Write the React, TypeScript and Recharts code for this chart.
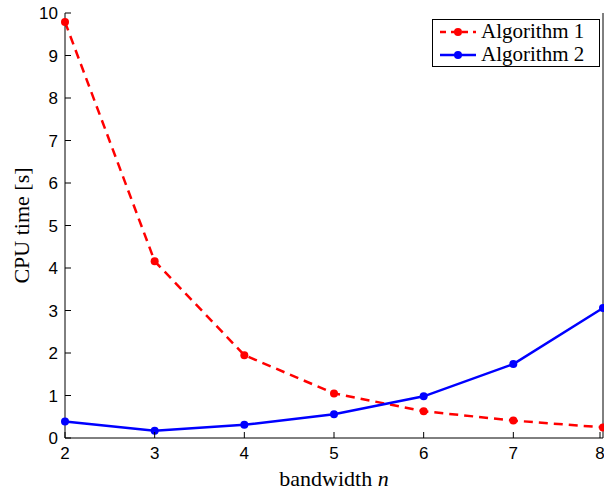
import { Line, LineChart, XAxis, YAxis } from "recharts";

const bandwidths = [2, 3, 4, 5, 6, 7, 8];
const algorithm1 = [9.79, 4.16, 1.95, 1.05, 0.63, 0.41, 0.25];
const algorithm2 = [0.39, 0.17, 0.31, 0.56, 0.98, 1.74, 3.06];
const xTicks = [2, 3, 4, 5, 6, 7, 8];
const yTicks = [0, 1, 2, 3, 4, 5, 6, 7, 8, 9, 10];
const seriesNames = ["Algorithm 1", "Algorithm 2"];

const data = bandwidths.map((n, i) => ({ n, a1: algorithm1[i], a2: algorithm2[i] }));

const sans = "'Liberation Sans', Arial, sans-serif";
const serif = "'Liberation Serif', 'Times New Roman', serif";
const RED = "#ff0000";
const BLUE = "#0000ff";
const TICK = 6;

function BottomTick(props: any) {
  const { x, y, payload } = props;
  return (
    <g>
      <line x1={x} y1={y} x2={x} y2={y - TICK} stroke="#000" strokeWidth={1} />
      <text x={x} y={y + 21} textAnchor="middle" fontSize={17} fontFamily={sans} fill="#000">
        {payload.value}
      </text>
    </g>
  );
}

function TopTick(props: any) {
  const { x, y } = props;
  return <line x1={x} y1={y} x2={x} y2={y + TICK} stroke="#000" strokeWidth={1} />;
}

function LeftTick(props: any) {
  const { x, y, payload } = props;
  return (
    <g>
      <line x1={x} y1={y} x2={x + TICK} y2={y} stroke="#000" strokeWidth={1} />
      <text x={x - 7} y={y + 6} textAnchor="end" fontSize={17} fontFamily={sans} fill="#000">
        {payload.value}
      </text>
    </g>
  );
}

function RightTick(props: any) {
  const { x, y } = props;
  return <line x1={x} y1={y} x2={x - TICK} y2={y} stroke="#000" strokeWidth={1} />;
}

function LegendBox() {
  const rows = [
    { name: seriesNames[0], color: RED, dash: "6 5" },
    { name: seriesNames[1], color: BLUE, dash: undefined }
  ];
  return (
    <div
      style={{
        position: "absolute",
        left: 432,
        top: 19,
        border: "1px solid #000",
        background: "#fff",
        padding: "0 6px",
        width: 154,
        fontFamily: serif,
        fontSize: 21,
        lineHeight: "23px"
      }}
    >
      {rows.map((r) => (
        <div key={r.name} style={{ display: "flex", alignItems: "center", height: 23 }}>
          <svg width={38} height={10} style={{ marginRight: 4 }}>
            <line x1={1} y1={5} x2={37} y2={5} stroke={r.color} strokeWidth={2.5} strokeDasharray={r.dash} />
            <circle cx={19} cy={5} r={4} fill={r.color} />
          </svg>
          <span>{r.name}</span>
        </div>
      ))}
    </div>
  );
}

export default function App() {
  return (
    <div style={{ position: "absolute", left: 0, top: 0, width: 604, height: 491, background: "#fff" }}>
      <LineChart width={604} height={491} data={data} margin={{ top: 13, right: 0, bottom: 0, left: 0 }}>
        <XAxis
          dataKey="n"
          type="number"
          domain={[2, 8]}
          ticks={xTicks}
          height={53}
          tickSize={0}
          tickMargin={0}
          tick={<BottomTick />}
          axisLine={{ stroke: "#000" }}
          tickLine={false}
          label={{
            value: "bandwidth n",
            content: ({ viewBox }: any) => (
              <text
                x={viewBox.x + viewBox.width / 2}
                y={viewBox.y + 48}
                textAnchor="middle"
                fontFamily={serif}
                fontSize={22}
                fill="#000"
              >
                bandwidth <tspan fontStyle="italic">n</tspan>
              </text>
            )
          }}
        />
        <XAxis
          xAxisId="top"
          orientation="top"
          dataKey="n"
          type="number"
          domain={[2, 8]}
          ticks={xTicks}
          height={0}
          tickSize={0}
          tickMargin={0}
          tick={<TopTick />}
          axisLine={{ stroke: "#000" }}
          tickLine={false}
        />
        <YAxis
          type="number"
          domain={[0, 10]}
          ticks={yTicks}
          width={65}
          tickSize={0}
          tickMargin={0}
          tick={<LeftTick />}
          axisLine={{ stroke: "#000" }}
          tickLine={false}
          label={{
            value: "CPU time [s]",
            content: ({ viewBox }: any) => {
              const cx = viewBox.x + 21;
              const cy = viewBox.y + viewBox.height / 2;
              return (
                <text
                  x={cx}
                  y={cy}
                  transform={`rotate(-90 ${cx} ${cy})`}
                  textAnchor="middle"
                  dominantBaseline="central"
                  fontFamily={serif}
                  fontSize={22}
                  fill="#000"
                >
                  CPU time [s]
                </text>
              );
            }
          }}
        />
        <YAxis
          yAxisId="right"
          orientation="right"
          type="number"
          domain={[0, 10]}
          ticks={yTicks}
          width={1}
          tickSize={0}
          tickMargin={0}
          tick={<RightTick />}
          axisLine={{ stroke: "#000" }}
          tickLine={false}
        />
        <Line
          dataKey="a1"
          name={seriesNames[0]}
          stroke={RED}
          strokeWidth={2.5}
          strokeDasharray="9 6"
          dot={{ r: 4, fill: RED, stroke: "none", strokeDasharray: "" }}
          isAnimationActive={false}
        />
        <Line
          dataKey="a2"
          name={seriesNames[1]}
          stroke={BLUE}
          strokeWidth={2.5}
          dot={{ r: 4, fill: BLUE, stroke: "none" }}
          isAnimationActive={false}
        />
      </LineChart>
      <LegendBox />
    </div>
  );
}
